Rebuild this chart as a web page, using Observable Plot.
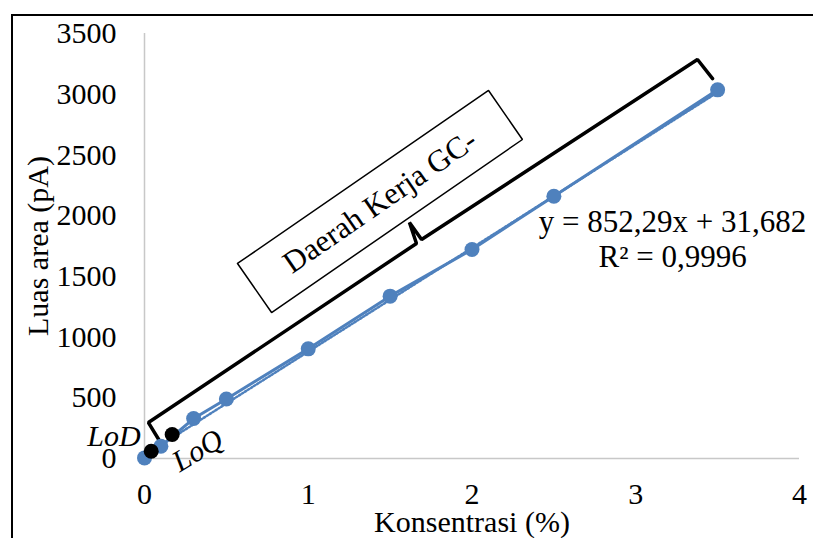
<!DOCTYPE html>
<html><head><meta charset="utf-8">
<script src="https://cdn.jsdelivr.net/npm/d3@7"></script>
<script src="https://cdn.jsdelivr.net/npm/@observablehq/plot@0.6"></script>
<style>
body{margin:0;background:#fff;}
#wrap{position:relative;width:813px;height:538px;overflow:hidden;background:#fff;}
#chart{position:absolute;left:0;top:0;}
#border{position:absolute;left:11px;top:14px;width:900px;height:600px;border-left:2.5px solid #000;border-top:2.5px solid #000;}
</style></head><body>
<div id="wrap"><div id="chart"></div><div id="border"></div></div>
<script>
// Calibration data
const concentration = [0, 0.1, 0.3, 0.5, 1, 1.5, 2, 2.5, 3.5];
const area = [5, 101, 329, 490, 903, 1337, 1721, 2160, 3036];

// LoD / LoQ points
const limitNames = ["LoD", "LoQ"];
const limitX = [0.041, 0.169];
const limitY = [60, 198];

// Tick labels
const xTicks = [0, 1, 2, 3, 4];
const yTicks = [0, 500, 1000, 1500, 2000, 2500, 3000, 3500];

// Texts
const xTitle = "Konsentrasi (%)";
const yTitle = "Luas area (pA)";
const equationText = "y = 852,29x + 31,682\nR² = 0,9996";
const boxText = "Daerah Kerja GC-";

// Annotation shapes (data coordinates)
const braceX = [0.098, 0.024, 1.661, 1.618, 1.692, 3.377, 3.469];
const braceY = [132, 296, 1771, 1943, 1803, 3286, 3129];
const boxX = [0.568, 2.101, 2.308, 0.776, 0.568];
const boxY = [1606, 3031, 2627, 1202, 1606];

const points = concentration.map((c, i) => ({x: c, y: area[i]}));
const limits = limitNames.map((n, i) => ({name: n, x: limitX[i], y: limitY[i]}));
const brace = braceX.map((x, i) => ({x, y: braceY[i]}));
const box = boxX.map((x, i) => ({x, y: boxY[i]}));

const blue = "#4f81bd";
const serif = "'Liberation Serif','Times New Roman',serif";

const chart = Plot.plot({
  width: 813,
  height: 538,
  marginLeft: 144,
  marginRight: 14,
  marginTop: 33,
  marginBottom: 80,
  style: {fontFamily: serif, fontSize: "30px", color: "#000", background: "transparent"},
  x: {domain: [0, 4]},
  y: {domain: [0, 3500]},
  marks: [
    Plot.ruleY([0], {stroke: "#c8c8c8", strokeWidth: 1.5}),
    Plot.ruleX([0], {stroke: "#c8c8c8", strokeWidth: 1.5}),
    Plot.axisX({ticks: xTicks, tickSize: 0, tickPadding: 24, tickFormat: d => String(d), label: null, fontSize: 30}),
    Plot.axisY({ticks: yTicks, tickSize: 0, tickPadding: 28, tickFormat: d => String(d), label: null, fontSize: 30}),
    Plot.text([xTitle], {text: d => d, frameAnchor: "bottom", dy: 73, textAnchor: "middle", lineAnchor: "bottom", fontSize: 30}),
    Plot.text([yTitle], {text: d => d, frameAnchor: "left", dx: -118, rotate: -90, textAnchor: "middle", lineAnchor: "top", fontSize: 30}),
    // annotation box and brace
    Plot.line(box, {x: "x", y: "y", stroke: "#000", strokeWidth: 1.5, strokeLinejoin: "miter"}),
    Plot.text([boxText], {text: d => d, x: 1.438, y: 2116, rotate: -34.6, lineAnchor: "middle", fontSize: 31}),
    Plot.line(brace, {x: "x", y: "y", stroke: "#000", strokeWidth: 3.5, strokeLinejoin: "miter"}),
    // trendline (dotted) and series
    Plot.linearRegressionY(points, {x: "x", y: "y", stroke: blue, strokeWidth: 2.5, strokeDasharray: "1.5,2", ci: 0, dy: 1.5}),
    Plot.line(points, {x: "x", y: "y", stroke: blue, strokeWidth: 3}),
    Plot.dot(points, {x: "x", y: "y", r: 7.5, fill: blue, stroke: "none"}),
    Plot.dot(limits, {x: "x", y: "y", r: 7.5, fill: "#000", stroke: "none"}),
    Plot.text(limits.filter(d => d.name === "LoD"), {x: -0.024, y: 107, text: "name", textAnchor: "end", lineAnchor: "bottom", fontStyle: "italic", fontSize: 30}),
    Plot.text(limits.filter(d => d.name === "LoQ"), {x: 0.324, y: 66, text: "name", rotate: -31, lineAnchor: "middle", fontStyle: "italic", fontSize: 30}),
    Plot.text([equationText], {text: d => d, x: 3.225, y: 1575, textAnchor: "middle", lineAnchor: "bottom", lineHeight: 1.15, fontSize: 31})
  ]
});
document.getElementById("chart").appendChild(chart);
</script>
</body></html>
